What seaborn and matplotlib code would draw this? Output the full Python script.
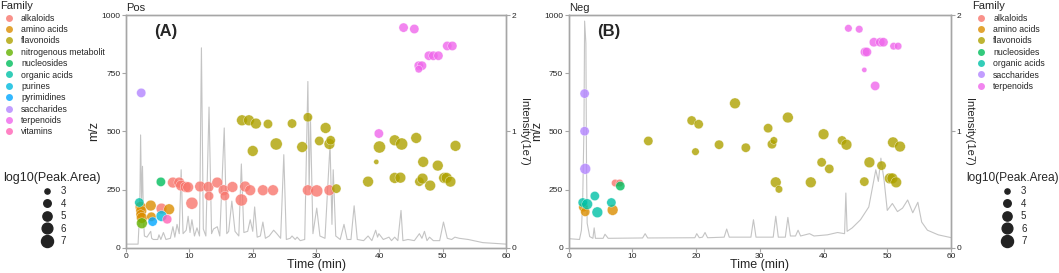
import numpy as np
import pandas as pd
import matplotlib
matplotlib.use("Agg")
import matplotlib.pyplot as plt
from matplotlib.lines import Line2D
import seaborn as sns

# ── Family palette (ggplot hue, 11 levels) ────────────────────────────────────
families = ["alkaloids", "amino acids", "flavonoids", "nitrogenous metabolit",
            "nucleosides", "organic acids", "purines", "pyrimidines",
            "saccharides", "terpenoids", "vitamins"]
fam_colors = ["#F8766D", "#DB8E00", "#AEA200", "#64B200", "#00BD5C", "#00C1A7",
              "#00BADE", "#00A6FF", "#B385FF", "#EF67EB", "#FF63B6"]
neg_families = ["alkaloids", "amino acids", "flavonoids", "nucleosides",
                "organic acids", "saccharides", "terpenoids"]

# ── Pos features ──────────────────────────────────────────────────────────────
pos_family = (["alkaloids"] * 22 + ["amino acids"] * 7 + ["flavonoids"] * 31 +
              ["nitrogenous metabolit", "nucleosides", "organic acids", "purines",
               "pyrimidines", "saccharides"] + ["terpenoids"] * 11 + ["vitamins"])
pos_time = [7.4, 8.4, 8.7, 9.4, 9.8, 10.4, 11.7, 13.0, 13.1, 14.4, 15.4, 15.6, 16.8,
            18.8, 19.6, 18.2, 21.6, 23.2, 28.7, 30.1, 32.1, 5.6,
            2.3, 2.4, 2.3, 2.5, 3.9, 4.0, 6.8,
            18.3, 19.4, 20.5, 22.4, 26.2, 28.7, 31.5, 30.5, 32.1, 32.3, 23.7, 20.0,
            27.8, 33.2, 38.2, 39.5, 40.0, 42.4, 43.5, 45.8, 46.9, 49.2, 52.0, 42.4,
            43.3, 46.3, 46.8, 48.0, 50.2, 50.6, 51.2,
            2.5, 5.5, 2.1, 5.6, 4.2, 2.4,
            43.8, 45.5, 46.2, 46.7, 46.2, 47.8, 48.5, 49.3, 50.7, 51.5, 39.9,
            6.5]
pos_mz = [280, 280, 267, 261, 260, 191, 263, 261, 222, 280, 247, 222, 261,
          263, 247, 205, 247, 247, 247, 244, 247, 168,
          175, 158, 143, 128, 181, 133, 165,
          548, 548, 534, 532, 534, 561, 515, 459, 446, 462, 446, 416,
          433, 254, 284, 369, 433, 462, 446, 472, 369, 353, 438, 300,
          301, 284, 297, 267, 300, 300, 284,
          105, 283, 194, 136, 112, 666,
          947, 941, 783, 783, 768, 826, 826, 826, 868, 868, 491,
          122]
pos_area = [6, 6, 6, 6, 6, 7, 6, 6, 5, 6, 6, 5, 6,
            6, 6, 7, 6, 6, 6, 7, 6, 6,
            6, 6, 5, 6, 6, 5, 6,
            6, 6, 6, 5, 5, 5, 6, 5, 6, 5, 7, 6,
            6, 5, 6, 3, 7, 6, 7, 6, 6, 6, 6, 6,
            6, 5, 6, 6, 6, 6, 6,
            6, 5, 5, 6, 5, 5,
            5, 5, 5, 5, 4, 5, 5, 5, 5, 5, 5,
            5]

# ── Neg features ──────────────────────────────────────────────────────────────
neg_family = (["alkaloids"] * 2 + ["amino acids"] * 3 + ["flavonoids"] * 27 +
              ["nucleosides"] + ["organic acids"] * 5 + ["saccharides"] * 3 +
              ["terpenoids"] * 11)
neg_time = [7.3, 8.0,
            2.3, 2.6, 6.9,
            12.5, 19.3, 20.4, 19.9, 23.6, 26.1, 27.8, 31.3, 31.9, 32.2, 34.4, 32.5,
            33.0, 38.0, 39.7, 40.0, 40.9, 42.9, 43.6, 46.4, 47.2, 49.1, 50.9, 52.0,
            50.4, 50.8, 51.4,
            8.1,
            2.2, 2.9, 4.1, 4.5, 6.7,
            2.5, 2.5, 2.6,
            43.9, 45.6, 46.5, 46.8, 46.4, 47.9, 48.9, 49.4, 51.0, 51.7, 48.1]
neg_mz = [278, 278,
          174, 154, 162,
          459, 547, 531, 413, 443, 621, 430, 514, 445, 461, 560, 281,
          251, 281, 367, 488, 339, 461, 443, 284, 367, 353, 453, 435,
          298, 298, 281,
          265,
          194, 187, 222, 152, 194,
          663, 501, 339,
          944, 940, 842, 842, 765, 884, 884, 884, 867, 867, 696]
neg_area = [4, 4,
            5, 5, 6,
            5, 5, 5, 4, 5, 6, 5, 5, 5, 4, 6, 6,
            4, 6, 5, 6, 5, 5, 6, 5, 6, 5, 6, 6,
            6, 6, 6,
            5,
            5, 6, 5, 6, 5,
            5, 5, 6,
            4, 4, 5, 5, 3, 5, 5, 5, 4, 4, 5]

# ── Chromatograms (intensity in 1e7) ─────────────────────────────────────────
pos_rt = [0.0, 1.9, 2.1, 2.2, 2.3, 2.45, 2.6, 2.75, 2.9, 3.3, 3.9, 4.05, 4.3, 5.0,
          5.2, 5.5, 5.9, 6.3, 7.0, 7.4, 7.7, 8.05, 8.4, 8.7, 9.0, 9.5, 9.8, 10.1,
          10.4, 10.8, 11.2, 11.6, 11.9, 12.2, 12.6, 13.1, 13.5, 13.8, 14.4, 14.8,
          15.5, 15.9, 16.2, 16.7, 17.2, 17.8, 18.2, 18.6, 19.2, 19.6, 20.0, 20.3,
          20.7, 21.2, 21.6, 22.0, 22.6, 23.3, 23.8, 24.4, 24.9, 25.3, 25.9, 26.2,
          26.7, 27.0, 27.5, 28.2, 28.7, 28.9, 29.1, 29.5, 30.1, 30.6, 31.4, 32.2,
          32.5, 32.7, 33.1, 33.8, 34.4, 34.9, 35.5, 36.0, 36.5, 37.5, 38.2, 38.8,
          39.4, 39.7, 39.9, 40.6, 41.5, 41.9, 42.4, 42.9, 43.4, 43.7, 44.5, 45.5,
          46.3, 46.7, 47.1, 47.5, 47.9, 48.5, 49.5, 50.1, 50.7, 51.4, 51.9, 52.6,
          54.0, 56.3, 60.0]
pos_int = [0.03, 0.03, 0.25, 0.47, 0.97, 0.40, 0.70, 0.25, 0.10, 0.09, 0.14, 0.08, 0.07,
           0.07, 0.11, 0.07, 0.13, 0.07, 0.08, 0.18, 0.09, 0.20, 0.12, 0.67, 0.12,
           0.15, 0.27, 0.13, 0.24, 0.10, 0.17, 0.10, 1.72, 0.16, 0.10, 1.21, 0.12,
           0.16, 0.18, 0.10, 1.03, 0.12, 0.14, 0.40, 0.14, 0.10, 0.72, 0.13, 0.14,
           0.24, 0.14, 0.35, 0.09, 0.10, 0.22, 0.08, 0.10, 0.15, 0.12, 0.08, 0.80,
           0.07, 0.08, 0.10, 0.07, 0.09, 0.06, 0.07, 1.43, 0.50, 1.13, 0.12, 0.34,
           0.10, 0.08, 0.89, 0.20, 0.67, 0.10, 0.07, 0.20, 0.07, 0.07, 0.36, 0.07,
           0.06, 0.10, 0.06, 0.15, 0.09, 0.12, 0.07, 0.09, 0.06, 0.09, 0.06, 0.32,
           0.06, 0.07, 0.06, 0.12, 0.08, 0.14, 0.06, 0.09, 0.06, 0.06, 0.22, 0.08,
           0.07, 0.09, 0.08, 0.07, 0.043, 0.03]

neg_rt = [0.0, 1.7, 2.0, 2.2, 2.4, 2.5, 2.7, 2.8, 2.9, 3.3, 3.8, 4.0, 4.2, 5.4, 5.7,
          6.2, 11.6, 12.0, 12.4, 19.8, 20.1, 20.5, 21.0, 21.4, 21.8, 24.4, 24.8,
          25.2, 28.6, 29.0, 29.4, 32.1, 32.5, 32.9, 34.0, 34.4, 34.8, 35.6, 36.0,
          36.4, 37.8, 38.5, 40.6, 42.2, 43.3, 43.5, 43.7, 44.5, 45.8, 47.1, 48.2,
          48.6, 49.0, 49.5, 50.0, 50.8, 51.6, 52.4, 53.2, 54.0, 54.8, 55.4, 56.3,
          58.0, 60.0]
neg_int = [0.077, 0.07, 0.15, 0.41, 1.04, 1.95, 1.76, 0.70, 0.21, 0.095, 0.08, 0.17,
           0.08, 0.08, 0.115, 0.08, 0.083, 0.12, 0.083, 0.085, 0.12, 0.085, 0.09,
           0.13, 0.085, 0.09, 0.16, 0.09, 0.09, 0.24, 0.09, 0.09, 0.27, 0.09, 0.09,
           0.26, 0.10, 0.10, 0.15, 0.10, 0.12, 0.10, 0.11, 0.13, 0.12, 0.47, 0.14,
           0.17, 0.24, 0.35, 0.67, 0.57, 0.77, 0.58, 0.32, 0.38, 0.31, 0.34, 0.41,
           0.30, 0.39, 0.22, 0.15, 0.11, 0.086]

pos = pd.DataFrame({"Family": pos_family, "Time": pos_time, "mz": pos_mz, "Area": pos_area})
neg = pd.DataFrame({"Family": neg_family, "Time": neg_time, "mz": neg_mz, "Area": neg_area})
pos_chrom = pd.DataFrame({"rt": pos_rt, "int": pos_int})
neg_chrom = pd.DataFrame({"rt": neg_rt, "int": neg_int})

PALETTE = dict(zip(families, fam_colors))
SIZES = (14, 75)
GRAY = "#a6a6a6"

sns.set_theme(style="white")
plt.rcParams["font.family"] = ["Liberation Sans", "DejaVu Sans"]

fig = plt.figure(figsize=(10.59, 2.73), dpi=100)


def panel(rect, df, chrom, title, tag):
    ax = fig.add_axes(rect)
    ax2 = ax.twinx()
    sns.lineplot(data=chrom, x="rt", y="int", ax=ax2, color="#c4c4c4", lw=0.8)
    ax2.set_ylim(0, 2)
    ax2.set_yticks([0, 1, 2])
    ax2.set_ylabel("Intensity(1e7)", rotation=270, va="bottom", labelpad=2,
                   fontsize=8)
    sns.scatterplot(data=df, x="Time", y="mz", hue="Family", size="Area",
                    palette=PALETTE, sizes=SIZES, size_norm=(3, 7), alpha=0.8,
                    edgecolor="white", linewidth=0.3, legend=False, ax=ax)
    ax.set_zorder(ax2.get_zorder() + 1)
    ax.patch.set_visible(False)
    ax.set_xlim(0, 60)
    ax.set_ylim(0, 1000)
    ax.set_xticks(range(0, 61, 10))
    ax.set_yticks([0, 250, 500, 750, 1000])
    ax.set_xlabel("Time (min)", fontsize=9, labelpad=-1)
    ax.set_ylabel("m/z", fontsize=9, labelpad=1)
    ax.text(0.0, 1.012, title, transform=ax.transAxes, fontsize=8, va="bottom")
    ax.text(4.5, 930, tag, fontsize=12, fontweight="bold", va="center")
    for a in (ax, ax2):
        for sp in a.spines.values():
            sp.set_color(GRAY)
            sp.set_linewidth(1.0)
        a.tick_params(length=3, width=0.8, color=GRAY, labelsize=6, pad=1)
    ax.tick_params(axis="both", direction="out", left=True, bottom=True)
    ax2.tick_params(axis="y", direction="out", right=True)
    return ax


panel([0.119, 0.093, 0.359, 0.851], pos, pos_chrom, "Pos", "(A)")
panel([0.537, 0.093, 0.361, 0.851], neg, neg_chrom, "Neg", "(B)")


def fam_handles(names):
    return [Line2D([], [], marker="o", ls="", markersize=5, alpha=0.8,
                   markerfacecolor=PALETTE[n], markeredgecolor="none") for n in names]


size_vals = [3, 4, 5, 6, 7]
size_handles = [Line2D([], [], marker="o", ls="", color="#222222",
                       markersize=np.sqrt(SIZES[0] + (v - 3) / 4 * (SIZES[1] - SIZES[0])))
                for v in size_vals]

common = dict(frameon=False, handletextpad=0.4, borderaxespad=0, borderpad=0)
fig.legend(fam_handles(families), families, title="Family", loc="upper left",
           bbox_to_anchor=(0.0, 0.995), fontsize=6.3, title_fontsize=8,
           labelspacing=0.27, **common)._legend_box.align = "left"
fig.legend(size_handles, [str(v) for v in size_vals], title="log10(Peak.Area)",
           loc="upper left", bbox_to_anchor=(0.003, 0.37), fontsize=7,
           title_fontsize=9, labelspacing=0.25, **common)
fig.legend(fam_handles(neg_families), neg_families, title="Family", loc="upper left",
           bbox_to_anchor=(0.918, 0.995), fontsize=6.3, title_fontsize=8,
           labelspacing=0.27, **common)._legend_box.align = "left"
fig.legend(size_handles, [str(v) for v in size_vals], title="log10(Peak.Area)",
           loc="upper left", bbox_to_anchor=(0.912, 0.37), fontsize=7,
           title_fontsize=8.6, labelspacing=0.25, **common)

fig.savefig("out.png", dpi=100)
